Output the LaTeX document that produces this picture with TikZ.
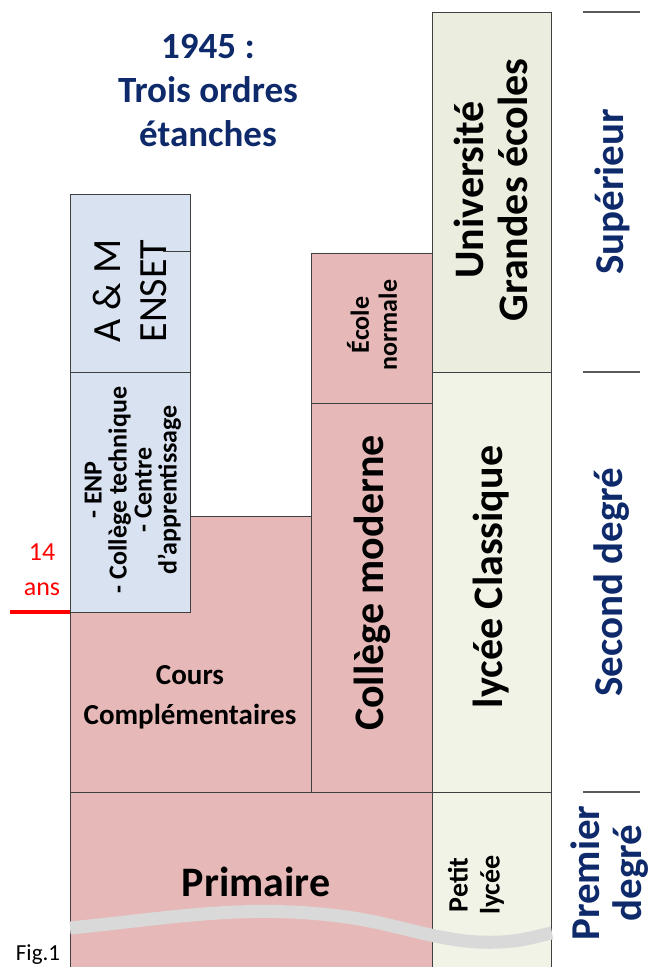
\documentclass[tikz,border=0pt]{standalone}
\usepackage{fontspec}
\setmainfont{Carlito}
\definecolor{pinkbox}{HTML}{E6B9B8}
\definecolor{bluebox}{HTML}{D9E2F1}
\definecolor{olivetop}{HTML}{EBEDDF}
\definecolor{olivelow}{HTML}{F0F3E6}
\definecolor{navy}{HTML}{0E2A6B}
\definecolor{wavegray}{HTML}{D9D9D9}
\newcommand{\fsize}[2]{\fontsize{#1}{#2}\selectfont}
\begin{document}
\begin{tikzpicture}[x=1pt,y=-1pt,
  box/.style={draw=black!75,line width=0.8pt},
  txt/.style={inner sep=0pt,align=center,font=\bfseries},
  vtxt/.style={txt,rotate=90},
  deg/.style={vtxt,text=navy,font=\bfseries\fsize{41}{42}},
  tick/.style={draw=black!65,line width=1.2pt}]
\useasboundingbox (0,0) rectangle (656,967);
\clip (0,0) rectangle (656,967);

% boites
\draw[box,fill=pinkbox] (70,516) rectangle (311,792);
\draw[box,fill=bluebox] (70,194) rectangle (190,372);
\draw[box,fill=bluebox] (70,372) rectangle (190,612);
\draw[box] (163,251)--(190,251);
\draw[box,fill=pinkbox] (311,253) rectangle (432,403);
\draw[box,fill=pinkbox] (311,403) rectangle (432,792);
\draw[box,fill=olivetop] (432,12) rectangle (551,372);
\draw[box,fill=olivelow] (432,372) rectangle (551,792);
\draw[box,fill=olivelow] (432,792) rectangle (551,990);
\draw[box,fill=pinkbox] (70,792) rectangle (432,990);

% textes
\node[txt,text=navy,font=\bfseries\fsize{37}{44}] (titre) at (208,90) {1945 :\\Trois ordres\\étanches};
\node[vtxt,font=\fsize{40}{46}] (am) at (130,291) {A \& M\\ENSET};
\node[vtxt,font=\bfseries\fsize{26}{25}] (enp) at (133,490) {- ENP\\- Collège technique\\- Centre\\d’apprentissage};
\node[txt,font=\bfseries\fsize{29}{40}] (cc) at (190,697) {Cours\\Complémentaires};
\node[vtxt,font=\bfseries\fsize{26}{28}] (en) at (372,325) {École\\normale};
\node[vtxt,font=\bfseries\fsize{42}{44}] (cm) at (372,583) {Collège moderne};
\node[vtxt,font=\bfseries\fsize{42}{44}] (univ) at (491,190) {Université\\Grandes écoles};
\node[vtxt,font=\bfseries\fsize{42}{44}] (lycee) at (491,577) {lycée Classique};
\node[vtxt,font=\bfseries\fsize{28}{32}] (petit) at (476,885) {Petit\\lycée};
\node[txt,font=\bfseries\fsize{42}{44}] (prim) at (256,882) {Primaire};

% trait gris
\draw[wavegray,line width=13pt] (70,928) .. controls (170,918) and (240,905) .. (330,915)
  .. controls (400,922) and (440,945) .. (500,942) .. controls (525,941) and (540,935) .. (552,933);

% age
\node[txt,text=red,font=\fsize{26}{35}] (age) at (42,570) {14\\ans};
\coordinate (ageA) at (10,612);
\coordinate (ageB) at (70,612);
\draw[red,line width=3.5pt] (ageA)--(ageB);

% degres
\foreach \y in {12,372,792}{
  \draw[tick] (583,\y)--(640,\y);
}
\node[deg] (sup) at (612,192) {Supérieur};
\node[deg] (sec) at (612,582) {Second degré};
\node[deg] (prem) at (610,873) {Premier\\degré};

\node[inner sep=0pt,font=\fsize{23}{25}] (fig) at (38,955) {Fig.1};
\end{tikzpicture}
\end{document}
